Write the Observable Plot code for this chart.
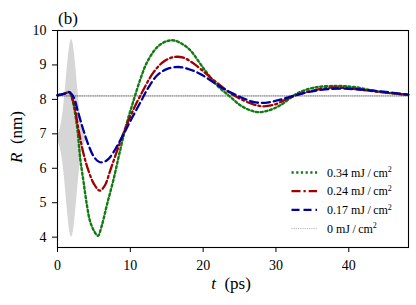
<!DOCTYPE html>
<html>
<head>
<meta charset="utf-8">
<script src="https://cdn.jsdelivr.net/npm/d3@7"></script>
<script src="https://cdn.jsdelivr.net/npm/@observablehq/plot@0.6"></script>
<style>
  html, body { margin: 0; padding: 0; background: #fff; }
</style>
</head>
<body>
<div id="chart"></div>
<script>
// ---- data ----
const T_G = [0, 1, 1.6, 2.0, 2.66, 3.12, 3.58, 4.04, 4.5, 5.1, 5.55, 6.1, 6.8, 7.7, 8.6, 9.5, 10.45, 11.4, 12.3, 13.7, 15, 16, 17.2, 18.25, 20.1, 21.9, 23.75, 25.1, 26.5, 27.6, 29, 30.6, 32.9, 35.2, 38.4, 40.7, 44, 48.2];
const R_G = [8.12, 8.17, 8.21, 8.02, 7.25, 6.28, 5.6, 4.93, 4.44, 4.15, 4.04, 4.35, 4.95, 5.68, 6.52, 7.3, 7.97, 8.6, 9.08, 9.52, 9.69, 9.71, 9.6, 9.42, 8.89, 8.41, 8.07, 7.83, 7.68, 7.63, 7.68, 7.83, 8.17, 8.34, 8.39, 8.36, 8.23, 8.13];

const T_R = [0, 1, 1.6, 2.2, 2.9, 3.6, 4.3, 5.0, 5.8, 6.5, 7.25, 8.2, 9.2, 10.2, 11.4, 13.2, 14.6, 16, 17.3, 18.5, 19.6, 21.5, 24.2, 27, 28.3, 29.8, 31.6, 34, 37.5, 40, 44, 48.2];
const R_R = [8.12, 8.17, 8.21, 7.92, 7.1, 6.4, 5.9, 5.55, 5.35, 5.5, 5.94, 6.52, 7.1, 7.6, 8.12, 8.79, 9.1, 9.23, 9.21, 9.07, 8.89, 8.55, 8.12, 7.85, 7.8, 7.85, 8.02, 8.2, 8.34, 8.32, 8.22, 8.13];

const T_B = [0, 1, 1.6, 2.2, 2.8, 3.35, 3.8, 4.26, 4.95, 5.6, 6.1, 6.7, 7.25, 8.2, 9.1, 10.2, 11.4, 12.5, 13.7, 15, 16.6, 18, 19.6, 22.4, 25.1, 27, 28.5, 30.2, 32, 34.3, 36.8, 39.3, 42, 44.4, 48.2];
const R_B = [8.12, 8.17, 8.21, 8.07, 7.65, 7.25, 6.95, 6.67, 6.35, 6.2, 6.17, 6.22, 6.33, 6.65, 7.0, 7.45, 7.92, 8.35, 8.7, 8.88, 8.94, 8.88, 8.74, 8.36, 8.07, 7.92, 7.9, 7.97, 8.08, 8.21, 8.29, 8.31, 8.28, 8.23, 8.14];

const REF_R = 8.1;          // 0 mJ/cm² reference level
const PULSE_C = 6.87;       // centre of the grey pulse shape
const PULSE_T = [0, 0.4, 0.8, 1.0, 1.2, 1.4, 1.6, 1.8, 1.93, 2.1, 2.3, 2.5, 2.7, 2.9, 3.2, 3.6, 4.0];
const PULSE_H = [0.08, 0.3, 0.84, 1.25, 1.72, 2.19, 2.58, 2.82, 2.87, 2.79, 2.51, 2.10, 1.62, 1.16, 0.61, 0.19, 0.05];

const LEGEND_LABELS = ["0.34", "0.24", "0.17", "0"];
const X_TICKS = [0, 10, 20, 30, 40];
const Y_TICKS = [4, 5, 6, 7, 8, 9, 10];

// ---- build tables ----
const toRows = (ts, rs) => ts.map((t, i) => ({t, r: rs[i]}));
const green = toRows(T_G, R_G);
const red = toRows(T_R, R_R);
const blue = toRows(T_B, R_B);
const pulse = PULSE_T.map((t, i) => ({t, lo: PULSE_C - PULSE_H[i], hi: PULSE_C + PULSE_H[i]}));
const refLine = [{t: 0, r: REF_R}, {t: 48.2, r: REF_R}];

const styles = [
  {stroke: "#117a11", width: 2.4, dash: "2.2,2.5"},
  {stroke: "#a00000", width: 2.3, dash: "9,3,2.2,3"},
  {stroke: "#0000a0", width: 2.3, dash: "8,4"},
  {stroke: "#000", width: 0.6, dash: "1,1.2"}
];

const FONT = "'Liberation Serif', 'DejaVu Serif', serif";

const chart = Plot.plot({
  width: 416,
  height: 305,
  marginLeft: 57,
  marginRight: 8,
  marginTop: 30,
  marginBottom: 58,
  style: {fontFamily: FONT, fontSize: "14px", color: "#000", background: "#fff"},
  x: {domain: [0, 48.2]},
  y: {domain: [3.7, 10]},
  marks: [
    Plot.areaY(pulse, {x: "t", y1: "lo", y2: "hi", fill: "#d6d6d6", curve: "monotone-x"}),
    Plot.line(refLine, {x: "t", y: "r", stroke: styles[3].stroke, strokeWidth: styles[3].width, strokeDasharray: styles[3].dash}),
    Plot.line(green, {x: "t", y: "r", stroke: styles[0].stroke, strokeWidth: styles[0].width, strokeDasharray: styles[0].dash, curve: "catmull-rom"}),
    Plot.line(red, {x: "t", y: "r", stroke: styles[1].stroke, strokeWidth: styles[1].width, strokeDasharray: styles[1].dash, curve: "catmull-rom"}),
    Plot.line(blue, {x: "t", y: "r", stroke: styles[2].stroke, strokeWidth: styles[2].width, strokeDasharray: styles[2].dash, curve: "catmull-rom"}),
    Plot.frame({stroke: "#000", strokeWidth: 1.1}),
    Plot.axisX({ticks: X_TICKS, tickFormat: d => String(d), tickSize: 5, tickPadding: 8, label: null, fontSize: 14, strokeWidth: 1}),
    Plot.axisY({ticks: Y_TICKS, tickFormat: d => String(d), tickSize: 5, tickPadding: 6, label: null, fontSize: 14, strokeWidth: 1})
  ]
});

document.getElementById("chart").appendChild(chart);

// ---- annotations: labels and legend ----
const svg = d3.select(chart);

// panel tag
svg.append("text").attr("x", 68).attr("y", 18).attr("text-anchor", "middle")
  .attr("dominant-baseline", "central").style("font-family", FONT).style("font-size", "17px").text("(b)");

// x label
const xl = svg.append("text").attr("x", 231).attr("y", 283).attr("text-anchor", "middle")
  .attr("dominant-baseline", "central").style("font-family", FONT).style("font-size", "17px");
xl.append("tspan").style("font-style", "italic").text("t");
xl.append("tspan").text("\u2002(ps)");

// y label
const yl = svg.append("text").attr("transform", "translate(16,137) rotate(-90)").attr("text-anchor", "middle")
  .attr("dominant-baseline", "central").style("font-family", FONT).style("font-size", "17px");
yl.append("tspan").style("font-style", "italic").text("R");
yl.append("tspan").text("\u2002(nm)");

// legend
const rowY = [172.5, 191.2, 209.9, 228.6];
const lg = svg.append("g");
LEGEND_LABELS.forEach((lab, i) => {
  const s = styles[i];
  lg.append("line").attr("x1", 291.5).attr("x2", 317).attr("y1", rowY[i]).attr("y2", rowY[i])
    .attr("stroke", s.stroke).attr("stroke-width", s.width).attr("stroke-dasharray", s.dash)
    .attr("stroke-opacity", i === 3 ? 0.6 : 1);
  const t = lg.append("text").attr("x", 327).attr("y", rowY[i]).attr("text-anchor", "start")
    .attr("dominant-baseline", "central")
    .style("font-family", FONT).style("font-size", "12px");
  t.append("tspan").text(lab + " mJ\u2009/\u2009cm");
  t.append("tspan").attr("dy", "-0.4em").style("font-size", "8px").text("2");
});
</script>
</body>
</html>
